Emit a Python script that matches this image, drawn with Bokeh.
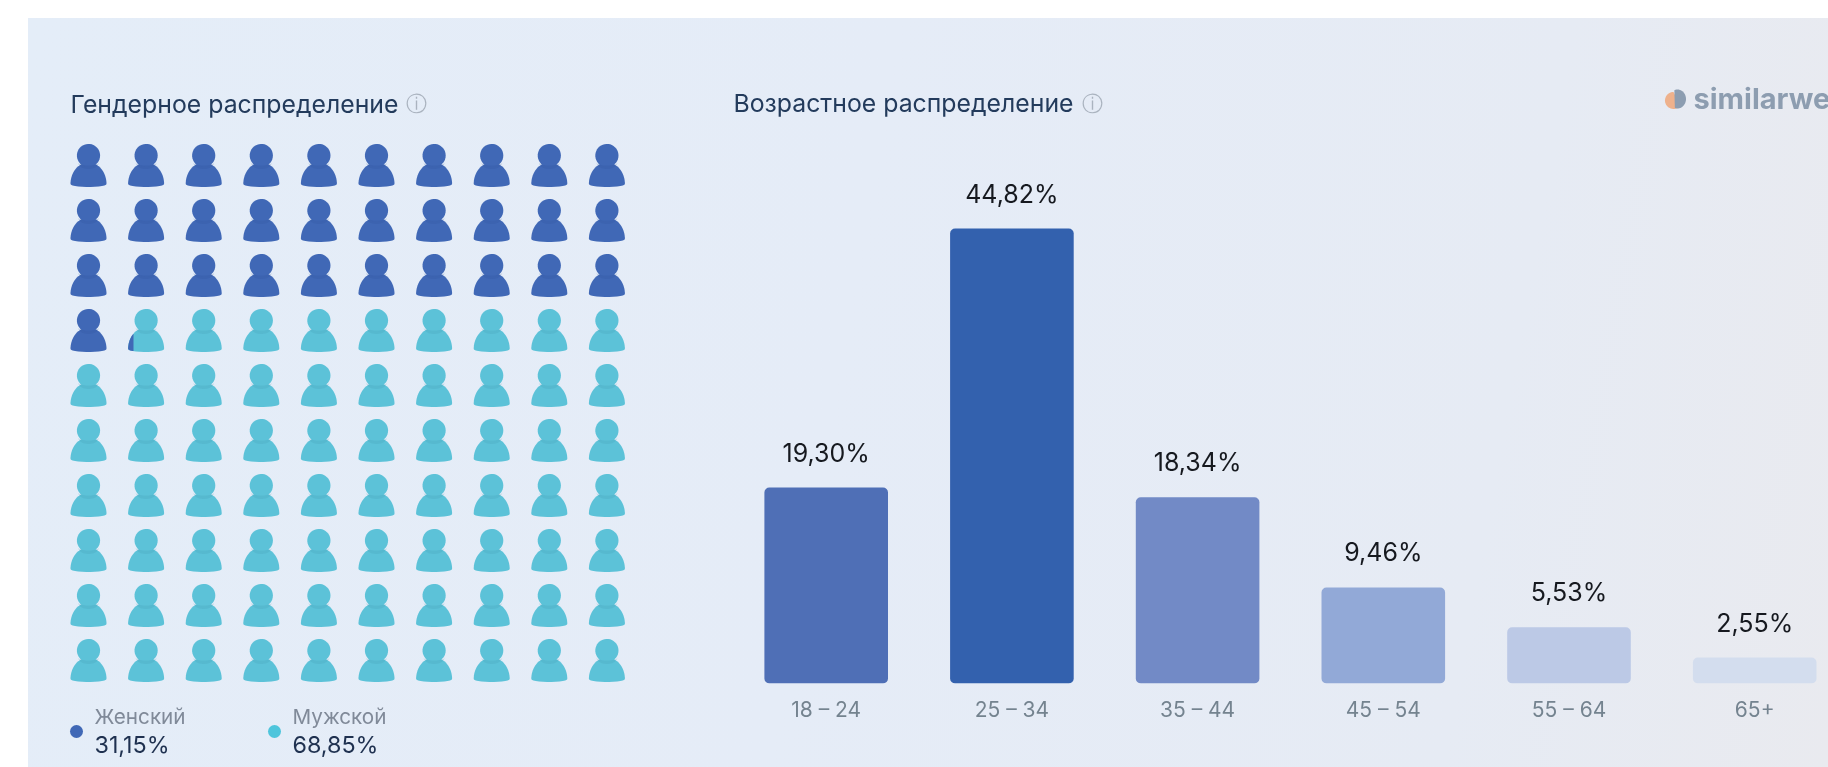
import numpy as np
from bokeh.embed import file_html
from bokeh.resources import INLINE
from bokeh.plotting import figure
from bokeh.layouts import row, column
from bokeh.models import Range1d, FixedTicker, Label, ColumnDataSource, GlobalInlineStyleSheet
from bokeh.core.properties import value

# ---- data ----
age_groups = ["18 – 24", "25 – 34", "35 – 44", "45 – 54", "55 – 64", "65+"]
age_values = [19.30, 44.82, 18.34, 9.46, 5.53, 2.55]
age_labels = ["19,30%", "44,82%", "18,34%", "9,46%", "5,53%", "2,55%"]
gender_names = ["Женский", "Мужской"]
gender_values = [31.15, 68.85]
gender_labels = ["31,15%", "68,85%"]
title_gender = "Гендерное распределение"
title_age = "Возрастное распределение"
brand = "similarweb"

# ---- styles ----
bar_colors = ["#4f6fb6", "#3361ae", "#728ac6", "#92a9d7", "#bcc9e6", "#d3ddee"]
FEMALE, FEMALE_SH = "#4068b6", "#2f5299"
MALE, MALE_SH = "#5cc2d8", "#3f97b0"
FONT = "Inter"
TITLE_C, LEG_GRAY, LEG_DARK, VAL_C, TICK_C = "#233b5c", "#808a99", "#1f3150", "#16191f", "#74838f"

PAGE_W, PAGE_H = 1828, 767
SPLIT = 700
BASE = 683

css = GlobalInlineStyleSheet(css="""
html::before{content:'';position:fixed;left:28px;top:18px;right:0;bottom:0;z-index:-1;
background:linear-gradient(100deg,#e4edf8 0%,#e5ecf7 45%,#e6ebf4 80%,#e9eaef 100%);}
""")


def label(p, text, px, py, size, color, style="normal", font=FONT, align="left", base=BASE):
    p.add_layout(Label(x=px, y=base - py, x_units="screen", y_units="screen", text=text,
                       text_font=font, text_font_size=f"{size}px", text_color=color,
                       text_font_style=style, text_baseline="middle", text_align=align))


# ---- left: waffle ----
CX, CY = 57.6, 55.0
X0, Y0 = 88.0, 155.0
left = figure(width=SPLIT, height=BASE, output_backend="svg", toolbar_location=None,
              x_range=Range1d((0 - X0) / CX, (SPLIT - X0) / CX),
              y_range=Range1d((BASE - Y0) / CY, (0 - Y0) / CY),
              min_border=0, x_axis_type=None, y_axis_type=None,
              border_fill_color=None, background_fill_color=None, outline_line_color=None)
left.grid.visible = False

t = np.linspace(0, np.pi, 40)
body_x = 18.0 * np.cos(t)
body_y = 28.5 - 21.5 * np.sin(t)
b = np.linspace(np.pi, 2 * np.pi, 14)
body_x = np.r_[body_x, 18.0 * np.cos(b)]
body_y = np.r_[body_y, 28.5 - 3.0 * np.sin(b)]
h = np.linspace(0, 2 * np.pi, 40)
head_x, head_y = 11.6 * np.cos(h), 11.6 * np.sin(h)
neck_t = np.linspace(0, np.pi, 20)
shade_x = np.r_[10.5 * np.cos(neck_t), 10.5 * np.cos(neck_t[::-1])]
shade_y = np.r_[7.0 + 3.0 * np.sin(neck_t), 7.0 + 6.5 * np.sin(neck_t[::-1])]


def clip_right(xs, ys, lim):
    ox, oy = [], []
    n = len(xs)
    for i in range(n):
        a, c = i, (i + 1) % n
        ina, inc = xs[a] <= lim, xs[c] <= lim
        if ina:
            ox.append(xs[a]); oy.append(ys[a])
        if ina != inc:
            f = (lim - xs[a]) / (xs[c] - xs[a])
            ox.append(lim); oy.append(ys[a] + f * (ys[c] - ys[a]))
    return np.array(ox), np.array(oy)


def place(xs, ys, c, r):
    return list(c + np.asarray(xs) / CX), list(r + np.asarray(ys) / CY)


female_units = gender_values[0]
groups = {"f": ([], []), "m": ([], []), "fs": ([], []), "ms": ([], [])}
for i in range(100):
    r, c = divmod(i, 10)
    frac = max(0.0, min(1.0, female_units - i))
    key = "f" if frac >= 1 else "m"
    for sx, sy_ in ((body_x, body_y), (head_x, head_y)):
        X, Y = place(sx, sy_, c, r)
        groups[key][0].append(X); groups[key][1].append(Y)
    if 0 < frac < 1:
        lim = -18.0 + 36.0 * frac
        cx, cy = clip_right(body_x, body_y, lim)
        X, Y = place(cx, cy, c, r)
        groups["f"][0].append(X); groups["f"][1].append(Y)
    X, Y = place(shade_x, shade_y, c, r)
    groups[key + "s"][0].append(X); groups[key + "s"][1].append(Y)

left.patches(groups["m"][0], groups["m"][1], fill_color=MALE, line_color=None)
left.patches(groups["f"][0], groups["f"][1], fill_color=FEMALE, line_color=None)
left.patches(groups["ms"][0], groups["ms"][1], fill_color=MALE_SH, fill_alpha=0.2, line_color=None)
left.patches(groups["fs"][0], groups["fs"][1], fill_color=FEMALE_SH, fill_alpha=0.2, line_color=None)

label(left, title_gender, 70, 103, 24.8, TITLE_C)
label(left, "ⓘ", 415.5, 103, 21, "#aab3bf", font="DejaVu Sans", align="center")

# ---- left: legend strip ----
LEG_H = PAGE_H - BASE
legend = figure(width=SPLIT, height=LEG_H, output_backend="svg", toolbar_location=None,
                x_range=Range1d(0, SPLIT), y_range=Range1d(PAGE_H, BASE),
                min_border=0, x_axis_type=None, y_axis_type=None,
                border_fill_color=None, background_fill_color=None, outline_line_color=None)
legend.grid.visible = False
leg_x = [94, 292]
dot_c = [FEMALE, "#4ec5dc"]
legend.scatter([x - 18 for x in leg_x], [731, 731], size=13, marker="circle", fill_color=dot_c, line_color=None)
for name, val, lx in zip(gender_names, gender_labels, leg_x):
    label(legend, name, lx, 716, 20.7, LEG_GRAY, base=PAGE_H)
    label(legend, val, lx, 744, 23.3, LEG_DARK, base=PAGE_H)

# ---- right: bars ----
R_W = PAGE_W - SPLIT
PX_PER_PCT = 10.15
UNIT = 185.7
FIRST = 825.7
x_lo = (SPLIT - FIRST) / UNIT
x_hi = (PAGE_W - FIRST) / UNIT
y_hi = BASE / PX_PER_PCT

right = figure(width=R_W, height=PAGE_H, output_backend="svg", toolbar_location=None,
               x_range=Range1d(x_lo, x_hi), y_range=Range1d(0, y_hi),
               min_border=0, min_border_bottom=PAGE_H - BASE, y_axis_type=None,
               border_fill_color=None, background_fill_color=None, outline_line_color=None)
right.grid.visible = False
positions = list(range(len(age_groups)))
src = ColumnDataSource(dict(x=positions, top=age_values, color=bar_colors, lab=age_labels))
right.vbar(x="x", top="top", bottom=0, width=123.6 / UNIT, fill_color="color", line_color=None,
           border_radius=5, source=src)
right.text(x="x", y="top", text="lab", source=src, text_align="center", text_baseline="middle",
           y_offset=-35, text_font=value(FONT), text_font_size="25px", text_color=VAL_C)

ax = right.xaxis[0]
ax.ticker = FixedTicker(ticks=positions)
ax.major_label_overrides = dict(zip(positions, age_groups))
ax.axis_line_color = None
ax.major_tick_line_color = None
ax.minor_tick_line_color = None
ax.major_label_standoff = 7
ax.major_label_text_font = FONT
ax.major_label_text_font_size = "21px"
ax.major_label_text_color = TICK_C


def rlabel(text, px, py, size, color, **kw):
    label(right, text, px - SPLIT, py, size, color, **kw)


rlabel(title_age, 733, 102, 24.8, TITLE_C)
rlabel("ⓘ", 1092, 103, 21, "#aab3bf", font="DejaVu Sans", align="center")
rlabel(brand, 1693, 98, 29, "#8d9db0", style="bold")


# brand mark (two-tone drop) drawn in page pixels through the data scales
def rx(px):
    return (np.asarray(px, dtype=float) - FIRST) / UNIT


def ry(py):
    return (BASE - np.asarray(py, dtype=float)) / PX_PER_PCT


a = np.linspace(0.5 * np.pi, 1.8 * np.pi, 30)
right.patch(rx(1673 + 8.5 * np.cos(a)), ry(100 - 8.5 * np.sin(a)), fill_color="#eeb18c", line_color=None)
a2 = np.linspace(-0.6 * np.pi, 0.62 * np.pi, 30)
right.patch(rx(1677 + 8.5 * np.cos(a2)), ry(98.5 - 9.5 * np.sin(a2)), fill_color="#8c9db1", line_color=None)

layout = row(column(left, legend, spacing=0), right, spacing=0)
layout.stylesheets = [css]
open("out.html", "w").write(file_html(layout, INLINE))
